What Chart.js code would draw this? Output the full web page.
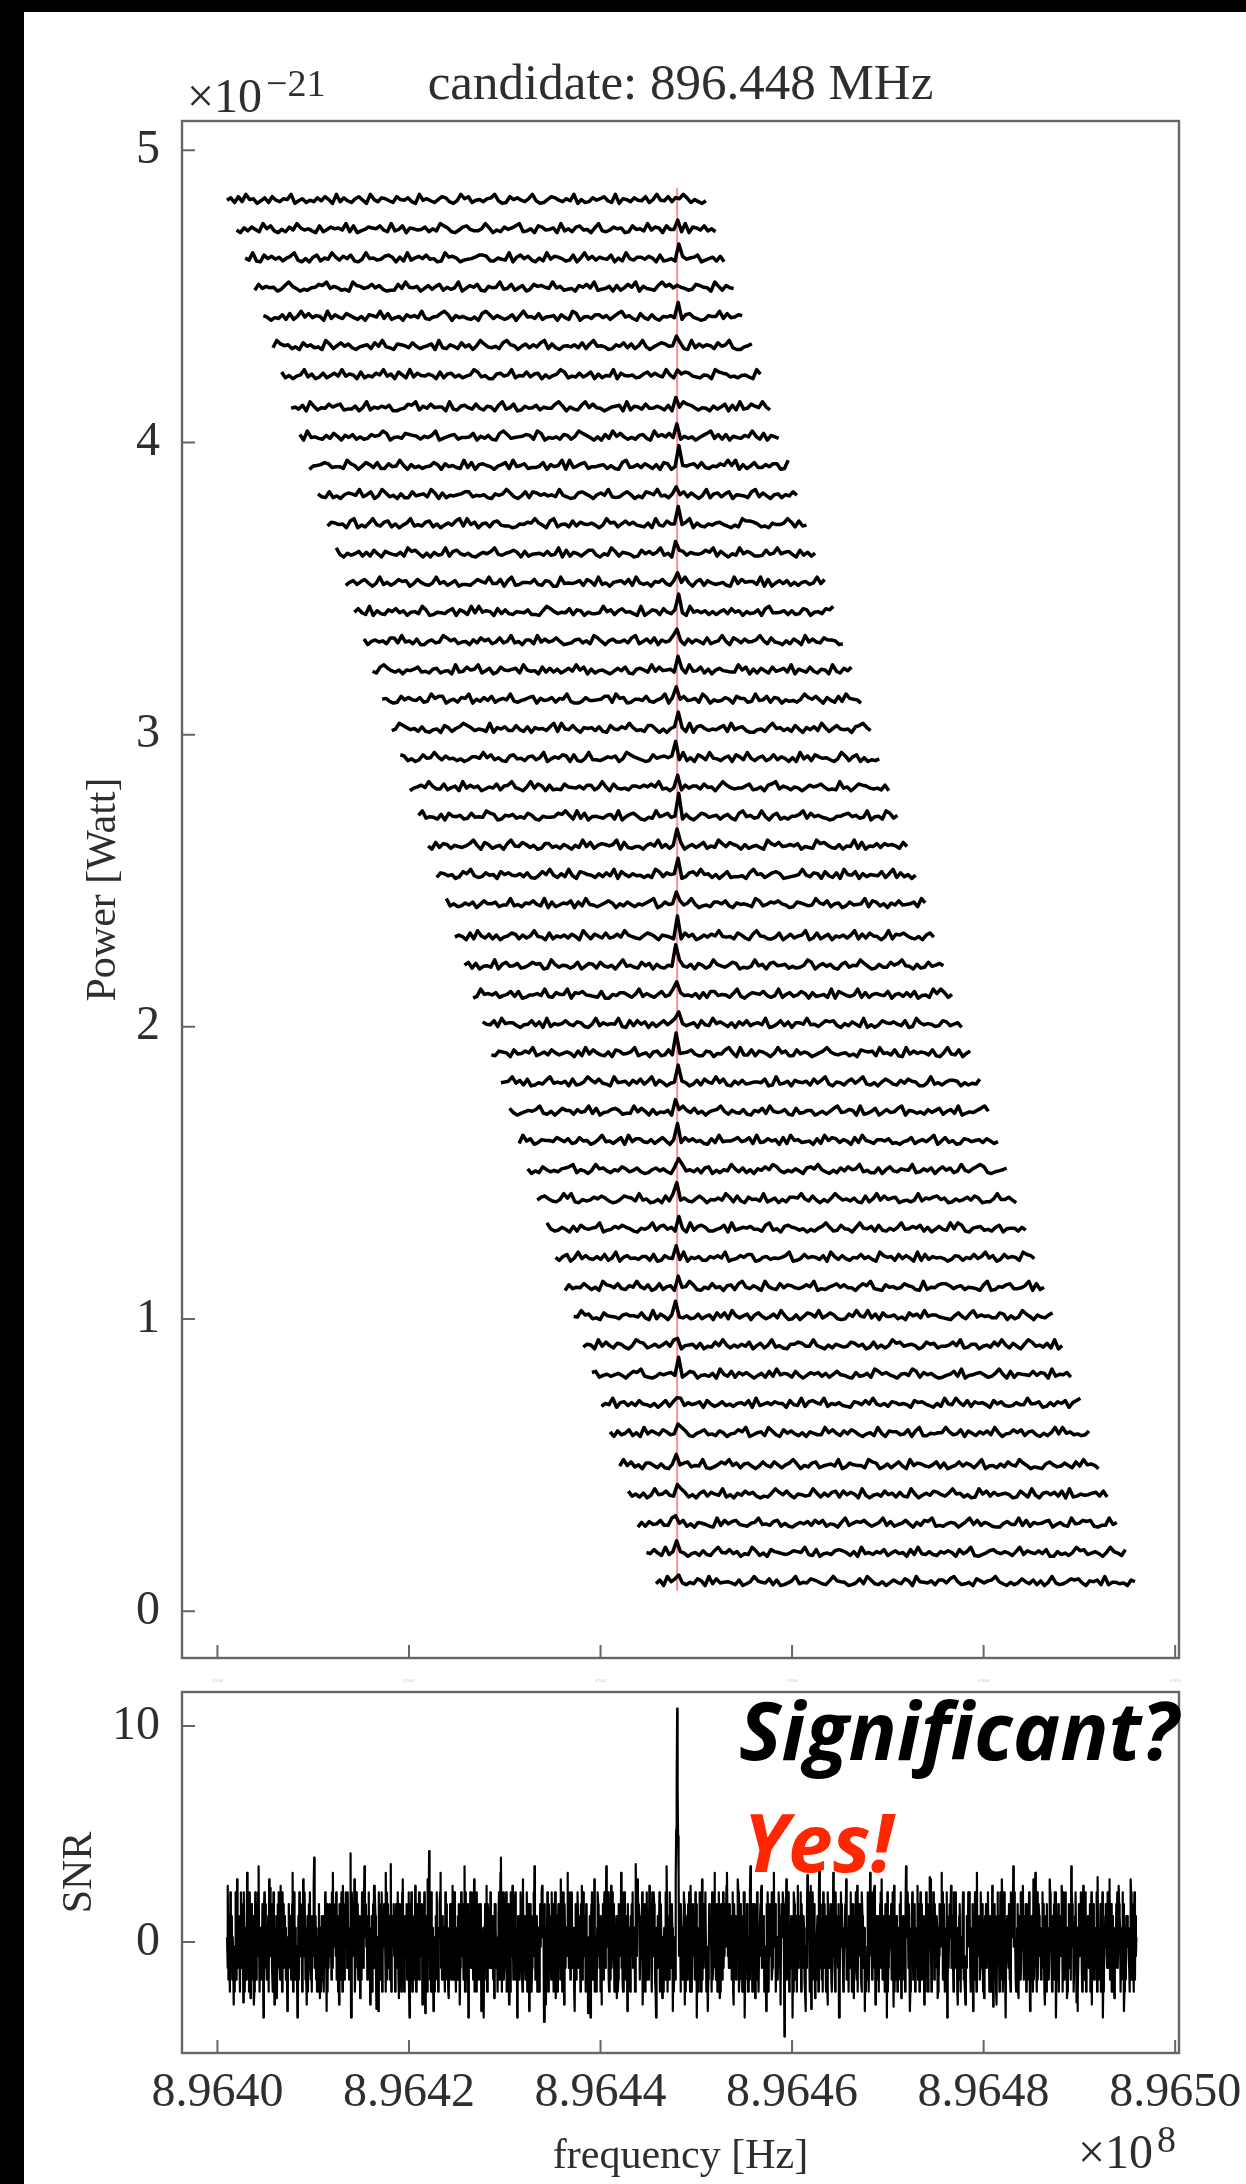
<!DOCTYPE html>
<html lang="en">
<head>
<meta charset="utf-8">
<title>candidate: 896.448 MHz</title>
<script src="https://cdn.jsdelivr.net/npm/chart.js@4.4.1/dist/chart.umd.min.js"></script>
<style>
  html, body { margin: 0; padding: 0; background: #000; width: 1246px; height: 2184px; overflow: hidden; }
  #sheet { position: absolute; left: 24px; top: 12px; width: 1222px; height: 2172px; background: #fff; }
  canvas { position: absolute; left: 0; }
  #powerCanvas { top: 0; }
  #snrCanvas { top: 1636px; }
</style>
</head>
<body>
<div id="sheet"></div>
<canvas id="powerCanvas" width="1260" height="1710"></canvas>
<canvas id="snrCanvas" width="1260" height="548"></canvas>
<script>
// ---- axes -------------------------------------------------------------
const baseHz = 896400000;                 // frequencies below are kHz above this
const candidateKHz = 48.0;                // 896.448 MHz
const freqTicksHz = [896400000, 896420000, 896440000, 896460000, 896480000, 896500000];
const freqRangeHz = [896396300, 896500400];
const powerTicks = [0, 1, 2, 3, 4, 5];    // ×1e-21 W
const powerRange = [-0.16, 5.1];
const snrTicks = [0, 10];
const snrRange = [-5.14, 11.57];

// ---- stacked power spectra (×1e-21 W) ------------------------------------
const traceOffset = [4.83, 4.73, 4.63, 4.53, 4.43, 4.33, 4.23, 4.12, 4.02, 3.92, 3.82, 3.72,
  3.62, 3.52, 3.42, 3.32, 3.22, 3.12, 3.02, 2.92, 2.82, 2.72, 2.62, 2.52, 2.42, 2.31, 2.21, 2.11,
  2.01, 1.91, 1.81, 1.71, 1.61, 1.51, 1.41, 1.31, 1.21, 1.11, 1.01, 0.91, 0.81, 0.71, 0.61, 0.50,
  0.40, 0.30, 0.20, 0.10];
const traceStartKHz = [1.0, 2.0, 2.9, 3.9, 4.8, 5.8, 6.7, 7.7, 8.6, 9.6, 10.5, 11.5, 12.4, 13.4,
  14.3, 15.3, 16.2, 17.2, 18.2, 19.1, 20.1, 21.0, 22.0, 22.9, 23.9, 24.8, 25.8, 26.7, 27.7, 28.6,
  29.6, 30.5, 31.5, 32.4, 33.4, 34.4, 35.3, 36.3, 37.2, 38.2, 39.1, 40.1, 41.0, 42.0, 42.9, 43.9,
  44.8, 45.8];
const traceWidthKHz = 50.0;
const traceSignal = [0.02, 0.03, 0.03, 0.02, 0.03, 0.04, 0.03, 0.04, 0.04, 0.05, 0.04, 0.05,
  0.05, 0.04, 0.06, 0.05, 0.06, 0.05, 0.06, 0.06, 0.05, 0.06, 0.05, 0.06, 0.05, 0.05, 0.06, 0.04,
  0.05, 0.05, 0.04, 0.05, 0.04, 0.04, 0.05, 0.04, 0.03, 0.04, 0.04, 0.03, 0.04, 0.03, 0.03, 0.04,
  0.03, 0.02, 0.03, 0.02];
// power deviation for each noise code 0-9
const traceLevels = [-0.012, -0.009, -0.006, -0.003, -0.001, 0.001, 0.004, 0.007, 0.011, 0.019];
const traceNoise = [
  '4718 2956 0371 8426 5903 6142 7385 0927 3168 4095 2763 1854 7209 4631 5872 0396 8145 2679 3018 5742 6930 1587 4263 9051 2746 8319 0652 7438 1594 3820 6971 5203',
  '3062 7419 5820 4173 9635 2081 4756 3918 0247 6583 1924 8065 3471 5298 6103 7842 2596 0317 4689 1250 8734 6092 5178 3406 9213 7560 1845 2937 6084 4519 0763 8251',
  '5291 0847 3615 7920 4068 1539 6274 8103 9452 3786 0619 2574 8340 1967 5023 4688 7115 3290 6847 2051 9376 4128 0593 7264 3805 1942 6637 5081 2419 7356 8024 6170',
  '1836 4502 7963 0214 5879 3641 2097 6358 4720 1183 9546 0372 6815 2490 3758 1064 5923 8147 0286 7539 4612 3075 8491 2360 7148 5906 3217 9684 0531 2875 4096 1743',
  '6403 2718 1594 8365 0927 4286 3150 7649 2813 5074 6392 1458 9706 3521 4089 7263 1370 6945 2814 5607 3198 0452 7736 1589 4620 8317 2054 6391 7842 0165 5928 3476',
  '2975 6130 8462 3097 1584 7203 5618 4932 0765 2841 3570 9216 4183 6059 7324 1896 5047 2638 9172 0453 6281 7945 3016 4827 1593 0368 7452 8109 2736 5184 6920 0357',
  '8140 3592 6027 1473 9365 0814 2759 3608 5192 7436 4081 6725 1359 8240 0673 5914 3826 7051 4698 1327 2580 6143 9074 3512 6837 4295 1068 7321 5409 8762 3145 2096',
  '3527 0961 4385 7812 2604 9153 6470 0238 7916 3845 5092 1674 2831 6507 9248 0163 4715 3389 6052 1794 8430 2567 0916 5283 3641 7025 9874 1430 6258 0719 2386 4951',
  '7093 4216 2850 6371 4127 5698 0342 8765 1536 9024 6713 3480 5261 0897 2345 7619 8032 4176 1598 6304 0729 5841 3167 2095 7483 6152 4036 8927 1705 3264 9518 0642',
  '0456 8723 3197 5048 6281 1734 9506 2413 4860 7352 1928 0675 3046 8193 5712 2480 6359 0924 7813 3561 5108 9236 2741 6087 0395 4672 8214 3759 5906 1482 2637 7019',
  '6218 1305 7649 2580 3972 4061 1835 6297 0714 3568 8243 5106 4697 2038 1874 6352 9420 1786 3057 4921 2685 0318 7593 4160 5827 3049 1672 6805 4318 9273 0561 5384',
  '2764 5089 0316 9427 8150 3692 4278 1503 6389 2947 0561 7832 2015 4769 6308 9145 1827 5463 0396 7158 4732 1609 3285 5847 9062 1536 7420 3198 8751 2064 4697 1823',
  '9305 2471 6184 0753 2619 7840 5062 3917 8425 1036 4793 2568 6071 3452 7239 0816 4158 8204 2971 6530 1847 3692 5018 7264 3586 9173 0429 4751 1283 5946 7308 2615',
  '1572 6840 3925 1486 7038 5214 9361 4702 2158 6493 3807 9125 5482 1760 0934 3571 8619 2405 6738 1942 4065 8317 2594 0681 7423 5109 3856 6290 8047 3715 1562 4938',
  '4831 9062 1758 3604 5297 0143 2680 7519 3946 5082 7215 4371 1069 8524 3817 6042 2395 7168 4520 9037 6184 2753 0946 3615 1572 8460 5237 0893 3461 6128 7045 2879',
  '7046 3518 8293 5170 0462 3985 7134 0628 5713 8249 2406 6193 7358 4012 6725 1984 0573 3628 9147 2806 3591 5072 6418 1359 4086 2734 6951 8320 5174 0937 3286 6501',
  '3189 7425 0546 8231 6713 4092 3856 9147 0285 4671 9534 0827 2614 7395 8061 4520 3748 1067 5293 8456 2071 9348 1605 7432 2958 0617 4183 5729 0642 8316 5093 1748',
  '5620 1847 4371 2968 8035 1769 0527 3814 6492 1357 8063 4716 5920 0273 3458 8196 7015 5382 1469 0725 8346 1970 4237 5086 6129 3481 7604 2315 9758 4073 1829 6540',
  '2498 6351 7103 4086 1579 8624 3190 6472 2831 7064 5279 1943 8306 5627 1084 3759 6231 8840 4057 3619 0785 2436 8193 6720 0341 7956 2518 4063 7296 1584 3407 8962',
  '8713 0284 5962 7341 3026 6495 8251 0783 4167 2590 3648 7081 0492 2136 5703 9864 2018 4675 7329 1508 6294 3157 0862 9415 7138 2640 5093 7186 4520 3971 6805 0213',
  '0357 4962 2814 6093 7460 2538 1679 4205 9386 0712 1854 3627 7149 5083 2316 6475 8592 3041 1736 6284 5069 7423 3681 2507 8926 4153 0375 6841 2193 5048 7632 3170',
  '6924 3170 8546 1283 4398 7016 5724 2861 0533 4879 6192 8045 3267 1904 7851 0329 4683 5917 2048 7356 1572 0894 6239 4068 1315 5792 8463 2015 5784 6239 0451 9826',
  '4082 7615 3247 9508 6135 0794 3862 5017 7241 6305 2938 1576 4690 8213 3057 4926 1578 0362 5814 2973 8640 6135 2097 5834 6470 3219 7852 1604 3918 0437 2756 4183',
  '1763 5028 6931 2745 0857 4362 7103 8594 1629 3087 5416 2739 0852 6341 4198 2756 3027 8495 6150 4812 2307 9561 4786 0123 5942 7608 3170 9548 0625 4381 6917 2504',
  '9251 2637 0485 5713 3924 1658 4290 7136 5807 2943 1368 6052 7415 3689 0274 5183 6940 2317 7582 0645 3198 2476 8530 1764 2396 4815 6027 3459 1872 5063 8345 7196',
  '3640 8195 2716 0358 7162 5943 0815 3627 4096 1752 8237 3964 2158 7406 5319 1847 0263 7594 3418 6207 9541 1380 3725 6902 8147 0536 2691 7285 4039 1768 5214 0683',
  '5817 0342 9068 3471 2586 7019 6254 1380 3761 8425 0693 5218 4706 2153 8942 6075 1396 4258 7021 3946 0784 5613 1259 8047 3610 6825 4973 0162 2857 9430 6128 3574',
  '0295 6471 3582 8014 4639 2175 5907 6843 2180 0537 7415 9263 1582 4967 3426 0718 8354 1692 0476 5831 3915 7248 6072 3519 0863 2491 7156 4380 5627 2803 4196 9715',
  '7438 1956 6203 4827 0915 3584 2761 0492 6354 9108 2847 0615 8379 1524 6083 2957 4160 7382 5639 0148 2706 6493 4158 7820 5274 1903 0386 5742 8019 6354 1287 2460',
  '2176 5083 4759 1362 8524 6407 1938 5216 0873 4691 3506 7128 2945 6831 1760 4389 5092 2817 6304 9571 1836 4025 7963 2451 3087 6719 4528 1093 7465 2810 5932 8047',
  '4569 3718 0142 7935 3608 1259 7483 2094 5617 3826 9174 0359 6402 7185 3948 1062 7235 5480 1923 6075 4618 3792 0541 6837 9214 0586 2173 8650 0392 4157 7604 1328',
  '8302 4657 9215 0486 6173 5928 0347 8612 2948 5071 4360 1796 3825 0467 9516 3271 0648 2953 4710 8236 6025 1589 3476 0912 5803 7348 9065 2417 3681 5729 0243 6895',
  '1947 0265 5386 3712 8450 2693 4158 0937 7326 1584 0692 8473 5107 2934 4683 5819 2374 6081 9562 3407 1958 7264 0829 5316 6471 2035 8146 3790 4825 0176 3562 7413',
  '6031 8524 2678 9153 0496 7315 3862 4720 1573 6208 4935 2617 8041 5396 2715 0648 5983 1426 3078 6952 0417 3856 9241 1705 8326 5491 2637 0584 7139 4268 9810 2357',
  '3785 2149 6910 4237 5862 0148 7629 3501 4082 9736 2158 5043 6397 1820 7452 9136 0417 7695 2830 4169 7352 6108 1593 8467 0231 3926 5784 6015 2473 8601 1594 4730',
  '9412 6307 1853 5690 2375 8641 0536 9278 3615 4092 7861 1358 0924 6573 3189 2407 8652 4031 5796 1284 3069 5471 8215 2693 4758 1603 7329 4981 0567 2316 8045 5162',
  '5168 0493 7326 2814 9057 3426 6180 1743 8290 5361 1647 4902 3758 8015 6243 5790 1384 6527 0962 7315 4836 2097 5618 3740 9182 6453 0276 1538 3694 7028 4651 9873',
  '0724 3851 4097 6382 1649 5270 2815 6034 5971 0428 3506 7189 4263 0952 1837 6324 7590 2146 8473 3058 6921 0745 2386 5109 1437 8862 5614 3207 9015 4782 2369 0814',
  '4396 7120 8543 1675 5382 0917 4068 3251 2714 6083 8195 2570 6841 3729 5016 0487 3925 8610 1749 5392 7084 4613 0857 2946 6321 0584 1793 6452 2870 5139 7406 3268',
  '2650 9384 1762 0498 7136 2583 9204 5617 0328 4951 5263 8047 1592 4106 6873 3942 0516 4238 7360 2815 1497 8356 4028 6713 3584 9126 6035 2849 5173 0698 3527 1904',
  '7813 5246 3058 7921 0264 6739 1587 0342 6095 2817 4730 3618 2946 5183 0375 7261 5843 1072 3619 8574 2056 3981 7462 0135 8290 3467 4126 9508 1654 3837 6092 5471',
  '1539 0672 6284 3150 4817 1926 3570 8413 7241 5638 0924 6375 5083 2917 8649 1536 2107 6384 9425 1763 5308 6742 0519 4396 2817 5630 8472 1263 3945 7016 2758 0689',
  '6072 4815 0937 5286 2359 7104 6823 1750 3486 9025 6197 2084 7315 0642 2958 4173 8620 3519 4076 6238 0791 1435 5962 3807 4163 7295 0348 5816 7204 1593 9462 3127',
  '3948 2507 7416 1063 5782 4391 0258 6947 1673 0384 2851 5796 0427 8135 6390 2754 4198 7026 1583 0947 6325 8170 2483 7516 9034 1628 5397 4021 0685 2374 1839 5640',
  '8251 6039 4583 2697 1406 8275 3914 0638 5720 2169 7483 0542 3961 6278 1847 5093 0352 8461 7219 5036 3874 2695 6140 1958 2735 6401 8519 3067 4728 0912 5346 7281',
  '0617 3482 2975 8140 6531 0928 4783 2156 9342 7815 1036 4728 5814 3069 2576 8413 6927 1358 4062 8791 2146 5037 9382 6410 0573 3928 1645 7803 6219 4587 8102 2936',
  '5384 1926 8640 3517 2179 5483 6032 9714 0865 3247 6592 1803 4278 7516 0935 2648 1473 5082 9326 2164 7508 3691 0247 8536 4169 2753 7380 0624 1597 8246 3059 6418',
  '2709 5863 1428 6092 8345 3170 2596 4381 7013 6924 3875 2169 6540 1382 9721 5037 4286 0954 3617 7389 5124 0863 6795 2041 3852 7160 4931 2587 8306 5719 1442 3075'
];
const markerSpan = [0.07, 4.87];          // extent of the candidate line

// ---- combined SNR spectrum ---------------------------------------------
const snrStartKHz = 1.0;
const snrStepKHz = 0.05;
// SNR for the noise codes: digits 0-9 for the bulk, letters for the tails
const snrLevels = [-2.3, -1.75, -1.2, -0.65, -0.22, 0.22, 0.65, 1.2, 1.75, 2.3];
const snrTailCodes = ['a', 'b', 'c', 'd', 'w', 'x', 'y', 'z'];
const snrTailValues = [2.6, 2.9, 3.2, 3.5, -2.6, -2.9, -3.2, -3.5];
const snrNoise = `
52a17 30964 7152x 40396 1b275 63049 2758y 94036 15c72 6039w
38261 7x049 21683 9d405 36128 5z794 82316 470b9 13862 7094x
6417w 28395 51a36 09482 73615 2y048 65271 38c04 97163 42z07
19538 6402b 83951 26x70 58392 14076 3a825 71604 2583w 60172
47063 925y8 06245 83719 2c657 48391 7603x 85149 60a27 18594
82946 1537z 49638 5b027 94381 627w5 13948 27d56 84713 3926x
35701 84a29 72015 3y948 61290 37584 50c19 48327 12x06 75483
60483 2791w 38470 69b52 04736 81529 2z863 93071 564a2 03817
29175 638x0 15926 4730b 85271 40963 6y105 17492 30658 9c271
73652 09184 640w3 28516 3a149 95206 41738 5x269 78341 2d059
1584z 72396 29851 6b037 50924 18637 8y052 69418 24a05 87362
94267 315w8 86324 05791 2c360 74912 36790 1482x 60973 4a518
38915 6z274 41697 820b3 67412 29058 5y487 70236 93d81 16704
62038 479a5 75280 1x649 40857 63194 28065 9w417 05862 71b49
0749x 85263 3c652 79148 92536 0y481 64973 26508 4a129 35670
84356 1207z 68913 42b05 15069 83726 07x54 81692 27d45 69108
51a23 96840 2457w 30186 734c2 51069 92617 4y835 61074 83925
26084 53b97 87134 659x2 48205 36917 15a68 72093 39851 0z627
73590 2841w 50362 198d7 06731 94258 6y302 51746 14c93 57086
46139 8x705 31682 950a7 20583 67194 8z260 41975 06b18 52749
9042y 13857 64091 287c6 51480 3796w 05874 19263 845a1 73628
27561 490x8 82714 56b90 14827 60359 9z142 38605 219d4 46083
683w4 75912 03468 9a257 76034 2y819 40683 67912 59c46 80215
14972 3x685 59836 047b1 38960 14572 6z309 84157 06a23 37490
85237 610y4 27659 8301a 62193 784w5 31576 09d28 75160 92834
3071x 94526 86103 4c682 09475 528z6 17948 63025 487b1 15607
72946 0835w 43892 1a067 84361 09724 56y30 21497 036c8 69142
5908x 26714 70538 92b61 31702 846z9 02347 75816 924a0 31576
06415 839w7 16274 608d9 57928 3y046 79513 48062 35a14 80293
81357 4x602 93840 2751b 40653 97182 2576w 01384 67c59 13840
4369z 15278 58a27 64093 29845 0x617 84052 37961 10b32 76495
97204 638y1 21965 0c374 76129 45830 1w674 82539 53076 204a8
25816 70x49 67403 951b8 03592 1z467 63281 40975 87d49 54102
680w7 32915 49a51 73680 81436 92y05 37508 164c3 20915 87364
13592 840x6 70836 214b9 56207 34819 9z164 58037 743a8 09521
7946w 05283 351d9 84602 27954 6y038 48396 207a5 15890 63472
42805 9x634 81624 390c5 64318 0759z 10547 86329 932b1 48057
061w3 52849 24a87 60312 938y0 26174 75632 04b91 38406 91735`;
const snrSpikeKHz = [2.7, 5.5, 8.4, 10.1, 13.9, 16.6, 18.1, 21.7, 22.1, 27.8, 29.6, 34.1, 38.7,
  43.7, 53.2, 59.2, 61.6, 62.0, 68.6, 70.6, 74.4, 78.1, 81.0, 85.2, 89.7, 91.9];
const snrSpikeValue = [-2.8, 2.5, -3.2, 3.9, 4.1, -3.1, 3.6, -3.3, 4.2, -3.5, 3.9, -3.7, -3.3,
  3.6, 3.2, -4.38, 3.1, -3.1, 2.6, -3.0, 3.0, -2.9, -3.0, 2.9, -2.8, 3.0];
const snrPeakKHz = [47.85, 47.9, 47.95, 48.0, 48.05, 48.1, 48.15];
const snrPeakValue = [3.0, 5.2, 7.3, 10.8, 7.0, 4.9, 3.2];

// ---- styling --------------------------------------------------------------
const SERIF = '"Liberation Serif", "Times New Roman", serif';
const SANS = '"Open Sans", "Lato", sans-serif';
const INK = '#2e2e2e';
const FRAME = '#666666';

const toHz = kHz => baseHz + kHz * 1000;
const decodeCodes = (codes, levels) => codes.replace(/\D/g, '').split('').map(c => levels[+c]);

// one line per stacked segment
const powerDatasets = traceNoise.map((codes, i) => {
  const noise = decodeCodes(codes, traceLevels);
  const step = traceWidthKHz / (noise.length - 1);
  const start = traceStartKHz[i];
  const sigIdx = Math.round((candidateKHz - start) / step);
  return {
    data: noise.map((n, j) => ({
      x: toHz(start + j * step),
      y: traceOffset[i] + n + (j === sigIdx ? traceSignal[i] : 0)
    })),
    borderColor: '#000',
    borderWidth: 3.5,
    order: 0
  };
});
powerDatasets.push({
  data: [{ x: toHz(candidateKHz), y: markerSpan[0] }, { x: toHz(candidateKHz), y: markerSpan[1] }],
  borderColor: '#ff8f8f',
  borderWidth: 2,
  order: 1
});

// SNR code table: digits then tail letters
const snrCodeTable = {};
snrLevels.forEach((v, d) => { snrCodeTable[String(d)] = v; });
snrTailCodes.forEach((c, i) => { snrCodeTable[c] = snrTailValues[i]; });
const snrValues = snrNoise.replace(/\s/g, '').split('').map(c => snrCodeTable[c]);
const snrIndex = kHz => Math.round((kHz - snrStartKHz) / snrStepKHz);
snrSpikeKHz.forEach((k, i) => { snrValues[snrIndex(k)] = snrSpikeValue[i]; });
snrPeakKHz.forEach((k, i) => { snrValues[snrIndex(k)] = snrPeakValue[i]; });
const snrData = snrValues.map((v, i) => ({ x: toHz(snrStartKHz + i * snrStepKHz), y: v }));

// frame and inward ticks, drawn from the scales
const axesFrame = {
  id: 'axesFrame',
  afterDatasetsDraw(chart) {
    const { ctx, chartArea: a, scales: { x, y } } = chart;
    ctx.save();
    ctx.strokeStyle = FRAME;
    ctx.lineWidth = 2.4;
    ctx.strokeRect(a.left, a.top, a.right - a.left, a.bottom - a.top);
    ctx.lineWidth = 2;
    ctx.beginPath();
    x.ticks.forEach(t => {
      const p = x.getPixelForValue(t.value);
      ctx.moveTo(p, a.bottom); ctx.lineTo(p, a.bottom - 13);
    });
    y.ticks.forEach(t => {
      const p = y.getPixelForValue(t.value);
      ctx.moveTo(a.left, p); ctx.lineTo(a.left + 13, p);
    });
    ctx.stroke();
    ctx.restore();
  }
};

function drawMultiplier(ctx, exponent, x, y) {
  ctx.textAlign = 'left';
  ctx.textBaseline = 'alphabetic';
  ctx.font = `48px ${SERIF}`;
  ctx.fillText('\u00d710', x, y);
  const w = ctx.measureText('\u00d710').width;
  ctx.font = `38px ${SERIF}`;
  ctx.fillText(exponent, x + w + 4, y - 16);
}

const powerNotes = {
  id: 'powerNotes',
  afterDraw(chart) {
    const { ctx, chartArea: a } = chart;
    ctx.save();
    ctx.fillStyle = INK;
    ctx.font = `51px ${SERIF}`;
    ctx.textAlign = 'center';
    ctx.textBaseline = 'alphabetic';
    ctx.fillText('candidate: 896.448 MHz', (a.left + a.right) / 2, a.top - 22);
    drawMultiplier(ctx, '\u221221', a.left + 5, a.top - 9);
    ctx.restore();
  }
};

const snrNotes = {
  id: 'snrNotes',
  afterDraw(chart) {
    const { ctx, chartArea: a } = chart;
    ctx.save();
    ctx.fillStyle = INK;
    drawMultiplier(ctx, '8', a.right - 101, a.bottom + 115);
    ctx.textAlign = 'left';
    ctx.textBaseline = 'alphabetic';
    ctx.font = `italic 700 80px ${SANS}`;
    ctx.fillStyle = '#000';
    ctx.fillText('Significant?', a.left + 557, a.top + 68);
    ctx.fillStyle = '#ff2600';
    ctx.fillText('Yes!', a.left + 561, a.top + 180);
    ctx.restore();
  }
};

function yScale(range, ticks, title, titleGap) {
  return {
    type: 'linear', min: range[0], max: range[1],
    afterBuildTicks: s => { s.ticks = ticks.map(v => ({ value: v })); },
    afterFit: s => { s.width = 158; },
    grid: { display: false, drawTicks: false },
    border: { display: false },
    ticks: { padding: 22, color: INK, font: { family: SERIF, size: 48 }, callback: v => String(v) },
    title: { display: true, text: title, color: INK, font: { family: SERIF, size: 42 }, padding: { top: titleGap, bottom: 0 } }
  };
}

function xScale(height, labelSize, labelColor, labelPad, title) {
  const s = {
    type: 'linear', min: freqRangeHz[0], max: freqRangeHz[1],
    afterBuildTicks: sc => { sc.ticks = freqTicksHz.map(v => ({ value: v })); },
    afterFit: sc => { sc.height = height; },
    grid: { display: false, drawTicks: false },
    border: { display: false },
    ticks: {
      autoSkip: false, maxRotation: 0, minRotation: 0, padding: labelPad, color: labelColor,
      font: { family: SERIF, size: labelSize }, callback: v => (v / 1e8).toFixed(4)
    }
  };
  if (title) {
    s.title = { display: true, text: title, color: INK, font: { family: SERIF, size: 42 }, padding: { top: 0, bottom: 2 } };
  }
  return s;
}

const common = {
  responsive: false,
  animation: false,
  events: [],
  parsing: false,
  elements: { point: { radius: 0 }, line: { tension: 0, borderJoinStyle: 'round', fill: false } },
  plugins: { legend: { display: false }, tooltip: { enabled: false }, title: { display: false } }
};

new Chart(document.getElementById('powerCanvas'), {
  type: 'line',
  data: { datasets: powerDatasets },
  options: Object.assign({}, common, {
    layout: { padding: { left: 24, right: 81, top: 121, bottom: 20 } },
    scales: {
      x: xScale(32, 4, '#c8c8c8', 21, null),
      y: yScale(powerRange, powerTicks, 'Power [Watt]', 55)
    }
  }),
  plugins: [axesFrame, powerNotes]
});

new Chart(document.getElementById('snrCanvas'), {
  type: 'line',
  data: { datasets: [{ data: snrData, borderColor: '#000', borderWidth: 2.2 }] },
  options: Object.assign({}, common, {
    layout: { padding: { left: 24, right: 81, top: 56, bottom: 0 } },
    scales: {
      x: xScale(131, 48, INK, 12, 'frequency [Hz]'),
      y: yScale(snrRange, snrTicks, 'SNR', 31)
    }
  }),
  plugins: [axesFrame, snrNotes]
});
</script>
</body>
</html>
